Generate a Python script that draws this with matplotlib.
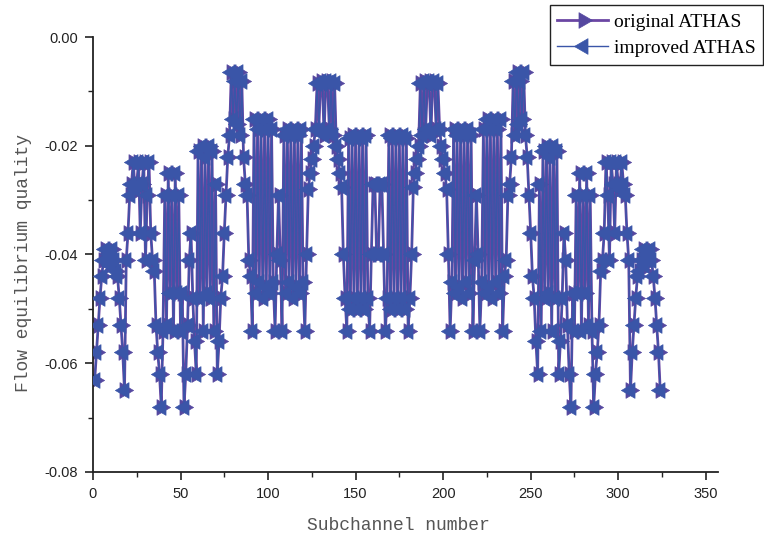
import matplotlib
matplotlib.use("Agg")
import matplotlib.pyplot as plt
from matplotlib.ticker import MultipleLocator, FormatStrFormatter

plt.rcParams['axes.unicode_minus'] = False

# Subchannel numbers 1..324
subchannels = list(range(1, 325))

original_left = [
    # block A
    -0.063, -0.058, -0.053, -0.048, -0.044, -0.041, -0.039, -0.041, -0.040, -0.042,
    -0.039, -0.041, -0.043, -0.044, -0.048, -0.053, -0.058, -0.065,
    -0.041, -0.036, -0.029,
    # block B
    -0.027, -0.023, -0.028, -0.027, -0.023, -0.036, -0.027, -0.023, -0.041, -0.029,
    -0.023, -0.036, -0.041,
    -0.043, -0.053, -0.058, -0.062, -0.068,
    # block C
    -0.054, -0.029, -0.053, -0.025, -0.047, -0.029, -0.054, -0.025, -0.047, -0.029,
    -0.054, -0.047,
    -0.068, -0.062, -0.053, -0.041, -0.036, -0.048, -0.056, -0.062,
    # block D
    -0.021, -0.048, -0.020, -0.054, -0.022, -0.047, -0.020, -0.048, -0.021, -0.054,
    -0.027,
    -0.062, -0.056, -0.048, -0.044, -0.036,
    # block E
    -0.029, -0.022, -0.018, -0.0065, -0.015, -0.008, -0.016, -0.0065, -0.018, -0.008,
    -0.022, -0.027, -0.029,
    -0.041, -0.044,
    # block F
    -0.054, -0.015, -0.047, -0.017, -0.045, -0.015, -0.048, -0.017, -0.046, -0.015,
    -0.047, -0.017, -0.045, -0.054, -0.040, -0.029,
    # block G
    -0.041, -0.054, -0.018, -0.047, -0.017, -0.045, -0.018, -0.048, -0.017, -0.046,
    -0.018, -0.047, -0.017, -0.045, -0.054, -0.040, -0.028,
    # block H
    -0.025, -0.0225, -0.020, -0.017, -0.0085, -0.017, -0.008, -0.0085, -0.018, -0.008,
    -0.0085, -0.017, -0.008, -0.018, -0.0085, -0.020, -0.0225, -0.025, -0.0275, -0.040,
    # block I
    -0.048, -0.054, -0.0185, -0.050, -0.018, -0.048, -0.0185, -0.050, -0.018, -0.048,
    -0.0185, -0.050, -0.018, -0.048, -0.054,
    # centre
    -0.040, -0.027, -0.027, -0.040,
]

original_right = [
    -0.040, -0.027, -0.027, -0.040,
    -0.054, -0.048, -0.018, -0.050, -0.0185, -0.048, -0.018, -0.050, -0.0185, -0.048,
    -0.018, -0.050, -0.0185, -0.054, -0.048,
    -0.040, -0.0275, -0.025, -0.0225, -0.020, -0.0085, -0.018, -0.008, -0.017, -0.0085,
    -0.008, -0.018, -0.0085, -0.008, -0.017, -0.0085, -0.017, -0.020, -0.0225, -0.025,
    -0.028, -0.040, -0.054, -0.045, -0.017, -0.047, -0.018, -0.046, -0.017, -0.048,
    -0.018, -0.045, -0.017, -0.047, -0.018, -0.054, -0.041,
    -0.029, -0.040, -0.054, -0.045, -0.017, -0.047, -0.015, -0.046, -0.017, -0.048,
    -0.015, -0.045, -0.017, -0.047, -0.015, -0.054,
    -0.044, -0.041,
    -0.029, -0.027, -0.022, -0.008, -0.018, -0.0065, -0.016, -0.008, -0.015, -0.0065,
    -0.018, -0.022, -0.029,
    -0.036, -0.044, -0.048, -0.056, -0.062,
    -0.027, -0.054, -0.021, -0.048, -0.020, -0.047, -0.022, -0.054, -0.020, -0.048,
    -0.021,
    -0.062, -0.056, -0.048, -0.036, -0.041, -0.053, -0.062, -0.068,
    -0.047, -0.054, -0.029, -0.047, -0.025, -0.054, -0.029, -0.047, -0.025, -0.053,
    -0.029, -0.054,
    -0.068, -0.062, -0.058, -0.053, -0.043,
    -0.041, -0.036, -0.023, -0.029, -0.041, -0.023, -0.027, -0.036, -0.023, -0.027,
    -0.028, -0.023, -0.027,
    -0.029, -0.036, -0.041,
    -0.065, -0.058, -0.053, -0.048, -0.044, -0.043, -0.041, -0.039, -0.042, -0.040,
    -0.041, -0.039, -0.041, -0.044, -0.048, -0.053, -0.058, -0.065,
]

original = original_left + original_right
improved = list(original)

fig = plt.figure(figsize=(7.64, 5.35), dpi=100)
ax = fig.add_axes([0.1217, 0.1178, 0.8181, 0.813])

purple = '#6B46A3'
blue = '#3A55A8'

# equilateral triangles so that the two overlapping markers form a six-pointed star
tri_right = [(1.0, 0.0), (-0.5, 0.866), (-0.5, -0.866), (1.0, 0.0)]
tri_left = [(-1.0, 0.0), (0.5, 0.866), (0.5, -0.866), (-1.0, 0.0)]

ax.plot(subchannels, original, color=purple, lw=2.0, marker=tri_right, markersize=13,
        markerfacecolor='#5548A0', markeredgecolor='#5548A0', markeredgewidth=0.5,
        label='original ATHAS', zorder=2)
ax.plot(subchannels, improved, color=blue, lw=1.0, marker=tri_left, markersize=13,
        markerfacecolor=blue, markeredgecolor=blue, markeredgewidth=0.5,
        label='improved ATHAS', zorder=3)

ax.set_xlim(0, 357)
ax.set_ylim(-0.08, 0.0)
ax.xaxis.set_major_locator(MultipleLocator(50))
ax.xaxis.set_minor_locator(MultipleLocator(25))
ax.yaxis.set_major_locator(MultipleLocator(0.02))
ax.yaxis.set_minor_locator(MultipleLocator(0.01))
ax.yaxis.set_major_formatter(FormatStrFormatter('%.2f'))

for s in ['top', 'right']:
    ax.spines[s].set_visible(False)
for s in ['left', 'bottom']:
    ax.spines[s].set_linewidth(1.3)
    ax.spines[s].set_color('#222222')

ax.tick_params(which='major', direction='out', length=6, width=1.2, labelsize=10.5,
               colors='#222222', pad=5)
ax.tick_params(which='minor', direction='out', length=3.5, width=1.0, colors='#222222')
for lab in ax.get_xticklabels() + ax.get_yticklabels():
    lab.set_fontfamily('Liberation Sans')

ax.set_xlabel('Subchannel number', fontfamily='Liberation Mono', fontsize=13,
              color='#555555')
ax.set_ylabel('Flow equilibrium quality', fontfamily='Liberation Mono', fontsize=13,
              color='#555555')
ax.xaxis.set_label_coords(0.488, -0.103)
ax.yaxis.set_label_coords(-0.098, 0.48)

leg = fig.legend(loc='upper right', bbox_to_anchor=(0.999, 0.99), frameon=True,
                 fancybox=False, edgecolor='#222222', framealpha=1,
                 prop={'family': 'Liberation Serif', 'size': 14},
                 handlelength=2.6, borderpad=0.4, labelspacing=0.45, handletextpad=0.3,
                 borderaxespad=0.0)
leg.get_frame().set_linewidth(1.0)

fig.savefig('out.png', dpi=100)
